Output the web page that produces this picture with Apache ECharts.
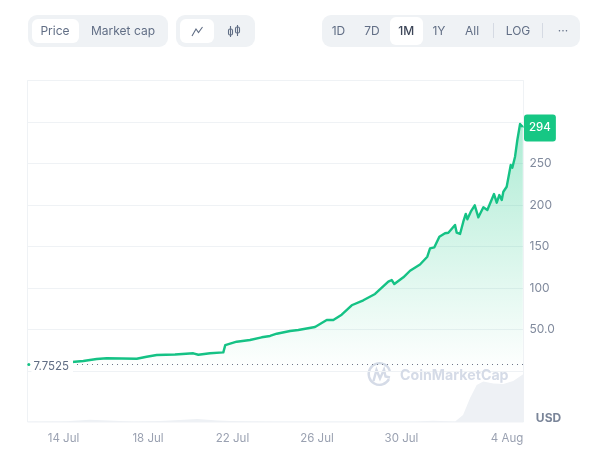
<!DOCTYPE html>
<html>
<head>
<meta charset="utf-8">
<style>html,body{margin:0;padding:0;background:#fff}#c{width:609px;height:462px}</style>
<script src="https://cdn.jsdelivr.net/npm/echarts@6/dist/echarts.min.js"></script>
</head>
<body>
<div id="c"></div>
<script>
// hours since 14 Jul 00:00
const priceHours = [9.7,22.5,37.7,49.1,83.2,94.5,105.9,126.7,147.5,153.2,166.5,181.6,183.8,196.8,211.9,225.2,234.7,242.3,257.4,266.8,268.8,285.8,299.1,306.6,316.1,327.5,340.7,354.0,369.1,373.0,375.9,386.2,393.8,405.1,413.4,416.5,421.4,427.1,433.5,437.3,444.9,446.8,450.6,454.3,457.1,458.9,462.8,465.0,467.3,471.4,477.1,481.6,489.2,492.3,495.2,498.0,499.8,503.6,508.2,510.0,513.1,515.7,518.8,521.9];
const priceValues = [10.8,12.0,14.5,15.3,14.8,17.2,19.3,19.9,21.3,19.6,21.4,22.5,31.1,35.3,37.3,40.6,42.2,44.9,48.2,49.4,47.3,53.0,61.4,61.4,67.8,79.2,85.2,92.8,107.6,109.6,104.8,112.9,120.8,128.3,137.7,147.8,149.0,161.8,165.9,166.6,175.9,166.6,165.1,179.9,189.2,182.8,191.9,190.7,199.6,185.2,197.2,194.0,213.2,202.8,212.0,206.0,216.0,222.0,248.2,244.9,258.2,278.3,297.6,294];
const volumeHours = [-40.9,3,30,64,80,110,132,152,175,190,210,240,300,400,420,445,454,462,469.5,477,488.4,499.8,511,522.7];
const volumeValues = [0.5,0.8,2.2,1,0.5,1,2,3,1.5,1,0.8,0.6,0.4,0.4,1.2,0.5,7,24,37,40.5,38.5,38,41,48];
const tickHours = [0,96,192,288,384,504];
const tickLabels = ['14 Jul','18 Jul','22 Jul','26 Jul','30 Jul','4 Aug'];
const priceTicks = [50,100,150,200,250];
const priceLabels = ['50.0','100','150','200','250'];
const openPrice = 7.7525;
const lastPrice = 294;
const rangeButtons = ['1D','7D','1M','1Y','All','LOG','···'];

const F = 'Inter, "Noto Sans", sans-serif';
const xMin = -40.9, xMax = 522.7;
const pair = (xs, ys) => xs.map((x, i) => [x, ys[i]]);

function pill(x, y, w, h, r, fill) {
  return {type:'rect', silent:true, z:1, shape:{x,y,width:w,height:h,r}, style:{fill}};
}
function label(x, y, text, color, size, weight, z, align) {
  return {type:'text', silent:true, z:z||2, x, y,
    style:{text, fill:color||'#58667e', font:(weight||400)+' '+(size||12)+'px '+F, textAlign:align||'center', textVerticalAlign:'middle'}};
}
const G = '#eff2f5';
const T = '#616e85';
const rangeX = [338.5,372,406.3,439,472,518,563];
const graphics = [
  pill(28,15,140,32,9,G), pill(32,19,47,24,6,'#fff'),
  label(55,31,'Price',T,12,400), label(123,31,'Market cap',T,12,400),
  pill(176,15,79,32,9,G), pill(180,19,34,24,6,'#fff'),
  {type:'polyline', silent:true, z:2, shape:{points:[[192,36],[196,29],[198.5,32.5],[202.5,27]]}, style:{stroke:T,lineWidth:1.1,fill:null}},
  {type:'rect', silent:true, z:2, shape:{x:228.5,y:29,width:4,height:6,r:1.5}, style:{stroke:T,fill:null,lineWidth:1.1}},
  {type:'rect', silent:true, z:2, shape:{x:235.5,y:27,width:4,height:6,r:1.5}, style:{stroke:T,fill:null,lineWidth:1.1}},
  {type:'line', silent:true, z:2, shape:{x1:230.5,y1:26,x2:230.5,y2:37}, style:{stroke:T,lineWidth:1.1}},
  {type:'line', silent:true, z:2, shape:{x1:237.5,y1:25,x2:237.5,y2:36}, style:{stroke:T,lineWidth:1.1}},
  pill(322,15,258,32,9,G), pill(390,17,33,28,6,'#fff'),
  {type:'line', silent:true, z:2, shape:{x1:493.5,y1:23,x2:493.5,y2:38}, style:{stroke:'#d5dae3',lineWidth:1}},
  {type:'line', silent:true, z:2, shape:{x1:542.5,y1:23,x2:542.5,y2:38}, style:{stroke:'#d5dae3',lineWidth:1}},
  // watermark
  {type:'arc', silent:true, z:0, shape:{cx:379.5,cy:374,r:10.8,startAngle:0.5,endAngle:6.0,clockwise:true}, style:{stroke:'#d5dbe7',lineWidth:2.4,fill:null}},
  {type:'polyline', silent:true, z:0, shape:{points:[[373.5,381],[376.5,370],[380,378.5],[384,369.5],[385.5,376.5],[390,377.5]]}, style:{stroke:'#d5dbe7',lineWidth:2.4,fill:null}},
  label(400,375.5,'CoinMarketCap','#d5dbe7',14.2,700,0,'left'),
  label(548.5,418.5,'USD','#7a8599',12,700)
];
rangeButtons.forEach((t,i)=>graphics.push(label(rangeX[i],31,t,i===2?'#3d4658':T,12,i===2?500:400)));

const chart = echarts.init(document.getElementById('c'));
chart.setOption({
  animation:false,
  backgroundColor:'#fff',
  textStyle:{fontFamily:F},
  grid:[
    {left:27.5,right:85.5,top:80.5,height:290.5,containLabel:false},
    {left:27.5,right:85.5,top:80.5,height:341.5,show:true,borderColor:G,borderWidth:1,backgroundColor:'transparent'}
  ],
  xAxis:[
    {type:'value',gridIndex:0,min:xMin,max:xMax,show:false},
    {type:'value',gridIndex:1,min:xMin,max:xMax,axisLine:{show:false},axisTick:{show:false},splitLine:{show:false},
     axisLabel:{customValues:tickHours,margin:11,color:'#9aa1b1',fontSize:11.5,fontFamily:F,
       formatter:v=>tickLabels[tickHours.indexOf(v)]||''}}
  ],
  yAxis:[
    {type:'value',gridIndex:0,position:'right',min:0,max:350,interval:50,axisLine:{show:false},axisTick:{show:false},
     splitLine:{lineStyle:{color:G,width:1}},
     axisLabel:{customValues:priceTicks,margin:6,color:'#808a9d',fontSize:12,fontFamily:F,padding:[4,0,0,0],
       formatter:v=>priceLabels[priceTicks.indexOf(v)]||''}},
    {type:'value',gridIndex:1,min:0,max:341.5,show:false}
  ],
  series:[
    {name:'Volume',type:'line',xAxisIndex:1,yAxisIndex:1,data:pair(volumeHours,volumeValues),symbol:'none',z:1,
     lineStyle:{width:0},areaStyle:{color:'#eef1f5',opacity:1},silent:true},
    {name:'Price',type:'line',xAxisIndex:0,yAxisIndex:0,data:pair(priceHours,priceValues),symbol:'none',z:3,
     lineStyle:{color:'#15c285',width:2.4,join:'round'},
     areaStyle:{color:new echarts.graphic.LinearGradient(0,0,0,1,[
       {offset:0,color:'rgba(22,199,132,0.5)'},{offset:1,color:'rgba(22,199,132,0)'}])},
     markLine:{silent:true,symbol:'none',animation:false,
       lineStyle:{type:[1,4],color:'#6b7486',width:1},
       label:{show:true,position:'start',distance:-1,offset:[0,2],formatter:String(openPrice),color:'#616e85',fontSize:11.5,fontFamily:F,backgroundColor:'#fff',padding:[1,4,1,2]},
       data:[[{coord:[priceHours[0],openPrice]},{coord:[xMax,openPrice]}]]},
     markPoint:{silent:true,animation:false,data:[
       {coord:[xMin+1.5,openPrice],symbol:'circle',symbolSize:3,itemStyle:{color:'#15c285'},label:{show:false}},
       {coord:[xMax,lastPrice],symbol:'circle',symbolSize:1,itemStyle:{color:'#16c784'},
        label:{show:true,position:'right',distance:0,offset:[0,1],formatter:String(lastPrice),color:'#fff',fontSize:11.5,fontWeight:500,fontFamily:F,
          backgroundColor:'#16c784',borderRadius:3,padding:[9,5,6,5]}}
     ]}}
  ],
  graphic:{elements:graphics}
});
</script>
</body>
</html>
